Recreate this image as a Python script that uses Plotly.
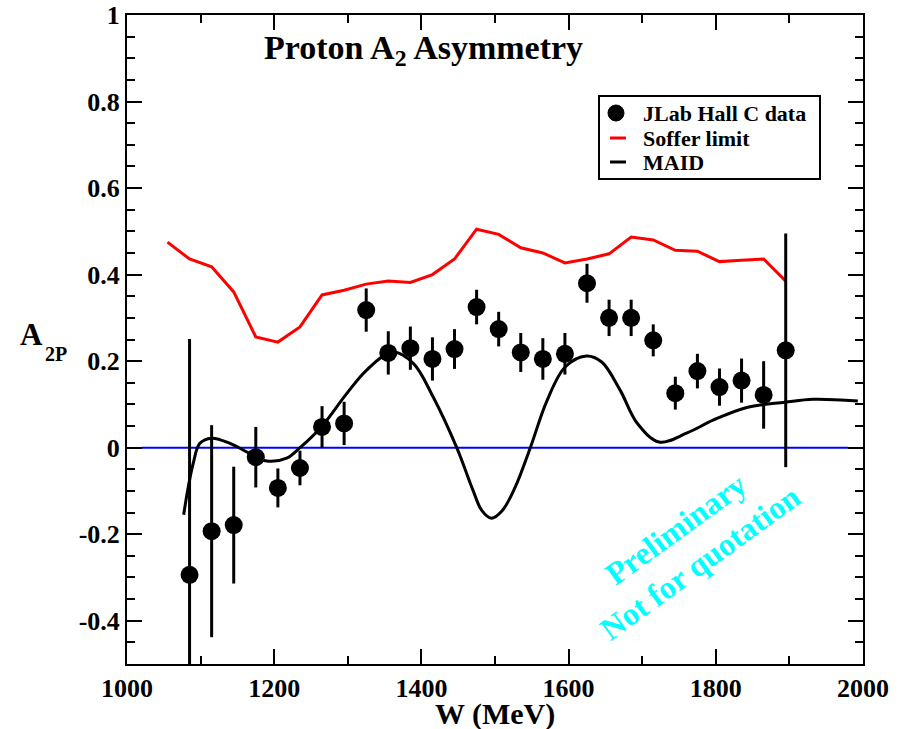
import plotly.graph_objects as go

# ---- data ----
w_data = [1085, 1115, 1145, 1175, 1205, 1235, 1265, 1295, 1325, 1355, 1385, 1415, 1445, 1475,
          1505, 1535, 1565, 1595, 1625, 1655, 1685, 1715, 1745, 1775, 1805, 1835, 1865, 1895]
a2_data = [-0.294, -0.193, -0.179, -0.022, -0.093, -0.047, 0.048, 0.056, 0.318, 0.219, 0.23, 0.205,
           0.228, 0.325, 0.274, 0.22, 0.205, 0.217, 0.38, 0.3, 0.3, 0.248, 0.126, 0.177, 0.14,
           0.155, 0.122, 0.225]
a2_err = [0.545, 0.245, 0.135, 0.07, 0.045, 0.04, 0.048, 0.05, 0.05, 0.05, 0.05, 0.05, 0.046,
          0.04, 0.04, 0.045, 0.048, 0.048, 0.045, 0.042, 0.042, 0.037, 0.038, 0.04, 0.043,
          0.051, 0.078, 0.27]

w_soffer = [1055, 1085, 1115, 1145, 1175, 1205, 1235, 1265, 1295, 1325, 1355, 1385, 1415, 1445,
            1475, 1505, 1535, 1565, 1595, 1625, 1655, 1685, 1715, 1745, 1775, 1805, 1835, 1865, 1895]
soffer = [0.475, 0.436, 0.418, 0.36, 0.256, 0.244, 0.279, 0.353, 0.364, 0.378, 0.385, 0.382, 0.4,
          0.436, 0.505, 0.493, 0.462, 0.45, 0.427, 0.436, 0.448, 0.487, 0.48, 0.456, 0.454, 0.43,
          0.433, 0.436, 0.385]

w_maid = [1077, 1083, 1090, 1099, 1115, 1140, 1174, 1190, 1217, 1235, 1264, 1299, 1326, 1361,
          1389, 1416, 1448, 1470, 1482, 1495, 1510, 1527, 1548, 1570, 1595, 1624, 1645, 1670,
          1693, 1723, 1761, 1797, 1842, 1894, 1932, 1993]
maid = [-0.155, -0.093, -0.036, 0.01, 0.022, 0.01, -0.02, -0.031, -0.024, 0.0, 0.048, 0.126,
        0.18, 0.221, 0.195, 0.117, 0.0, -0.098, -0.145, -0.163, -0.145, -0.093, 0.0, 0.106,
        0.186, 0.212, 0.198, 0.133, 0.057, 0.013, 0.034, 0.064, 0.093, 0.105, 0.112, 0.108]

zero_x = [1020, 1980]
zero_y = [0, 0]

x_ticks = [1000, 1200, 1400, 1600, 1800, 2000]
y_ticks = [-0.4, -0.2, 0, 0.2, 0.4, 0.6, 0.8, 1]
y_ticktext = ["-0.4", "-0.2", "0", "0.2", "0.4", "0.6", "0.8", "1"]

legend_labels = ["JLab Hall C data", "Soffer limit", "MAID"]

FONT = "Liberation Serif"

# plot-area geometry (pixels) used to place paper-referenced decorations
L, R, T, B = 127, 863, 15, 664
PW, PH = R - L, B - T


def px(xp):
    return (xp - L) / PW


def py(yp):
    return (B - yp) / PH


fig = go.Figure()
fig.add_trace(go.Scatter(x=zero_x, y=zero_y, mode="lines",
                         line=dict(color="#0000ff", width=2), showlegend=False, hoverinfo="skip"))
fig.add_trace(go.Scatter(x=w_soffer, y=soffer, mode="lines", name=legend_labels[1],
                         line=dict(color="#ff0000", width=3), showlegend=False))
fig.add_trace(go.Scatter(x=w_maid, y=maid, mode="lines", name=legend_labels[2],
                         line=dict(color="black", width=3, shape="spline", smoothing=1.0),
                         showlegend=False))
fig.add_trace(go.Scatter(x=w_data, y=a2_data, mode="markers", name=legend_labels[0],
                         marker=dict(color="black", size=18, symbol="circle"),
                         error_y=dict(type="data", array=a2_err, color="black", thickness=3, width=0),
                         showlegend=False))

axis_common = dict(showline=True, linecolor="black", linewidth=2, mirror="allticks",
                   ticks="inside", tickcolor="black", tickwidth=2, ticklen=15,
                   showgrid=False, zeroline=False, automargin=False,
                   tickfont=dict(family=FONT, size=26, color="black", weight="bold"))

fig.update_xaxes(range=[1000, 2000], tickvals=x_ticks,
                 minor=dict(ticks="inside", ticklen=8, tickwidth=2, tickcolor="black", dtick=100,
                            showgrid=False),
                 **axis_common)
fig.update_yaxes(range=[-0.5, 1], tickvals=y_ticks, ticktext=y_ticktext,
                 minor=dict(ticks="inside", ticklen=8, tickwidth=2, tickcolor="black", dtick=0.05,
                            showgrid=False),
                 **axis_common)

# manual legend (box, symbols, labels)
shapes = [
    dict(type="rect", xref="paper", yref="paper", x0=px(599), x1=px(820), y0=py(179), y1=py(96),
         line=dict(color="black", width=2), fillcolor="white", layer="above"),
    dict(type="circle", xref="paper", yref="paper", x0=px(608), x1=px(624), y0=py(121), y1=py(105),
         line=dict(color="black", width=1), fillcolor="black", layer="above"),
    dict(type="line", xref="paper", yref="paper", x0=px(610), x1=px(626), y0=py(138), y1=py(138),
         line=dict(color="#ff0000", width=3), layer="above"),
    dict(type="line", xref="paper", yref="paper", x0=px(610), x1=px(626), y0=py(162), y1=py(162),
         line=dict(color="black", width=3), layer="above"),
]

legend_font = dict(family=FONT, size=22, color="black", weight="bold")
annotations = [
    dict(text=legend_labels[i], xref="paper", yref="paper", x=px(641), y=py(yy),
         xanchor="left", yanchor="middle", showarrow=False, font=legend_font)
    for i, yy in enumerate([113, 138, 162])
]
annotations += [
    dict(text="Proton A<sub>2</sub> Asymmetry", xref="paper", yref="paper",
         x=px(423), y=py(50), xanchor="center", yanchor="middle",
         showarrow=False, font=dict(family=FONT, size=34, color="black", weight="bold")),
    dict(text="W (MeV)", xref="paper", yref="paper", x=px(495), y=py(714),
         xanchor="center", yanchor="middle", showarrow=False,
         font=dict(family=FONT, size=30, color="black", weight="bold")),
    dict(text="A", xref="paper", yref="paper", x=px(31), y=py(334),
         xanchor="center", yanchor="middle", showarrow=False,
         font=dict(family=FONT, size=31, color="black", weight="bold")),
    dict(text="2P", xref="paper", yref="paper", x=px(56), y=py(354),
         xanchor="center", yanchor="middle", showarrow=False,
         font=dict(family=FONT, size=20, color="black", weight="bold")),
    dict(text="Preliminary<br>Not for quotation", x=1762, y=-0.227, xref="x", yref="y",
         showarrow=False, textangle=-36,
         font=dict(family=FONT, size=32, color="#00ffff", weight="bold")),
]

fig.update_layout(
    width=909, height=729,
    margin=dict(l=L, r=909 - R, t=T, b=729 - B),
    plot_bgcolor="white", paper_bgcolor="white",
    font=dict(family=FONT, color="black", weight="bold"),
    showlegend=False,
    shapes=shapes,
    annotations=annotations,
)

fig.write_html("out.html")
